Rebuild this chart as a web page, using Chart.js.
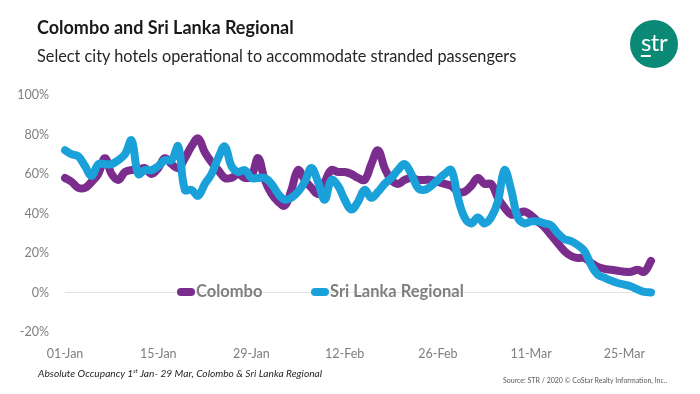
<!DOCTYPE html>
<html>
<head>
<meta charset="utf-8">
<script src="https://cdn.jsdelivr.net/npm/chart.js@4.4.0/dist/chart.umd.min.js"></script>
<style>
  body { margin: 0; background: #fff; font-family: Lato, "Open Sans", sans-serif; }
  #wrap { position: relative; width: 700px; height: 394px; overflow: hidden; }
  #wrap canvas { position: absolute; left: 0; top: 0; }
  .title { position: absolute; left: 37px; top: 16px; font-size: 18px; font-weight: bold; color: #1a1a1a; }
  .sub { position: absolute; left: 37px; top: 46px; font-size: 16.3px; color: #262626; }
  .logo { position: absolute; left: 630px; top: 20px; width: 48px; height: 48px; border-radius: 50%; background: #0a8a76;
          color: #fff; font-size: 24px; line-height: 44px; text-align: center; letter-spacing: -0.5px; }
  .logo span { text-decoration: underline; text-decoration-thickness: 2px; text-underline-offset: 4px; }
  .leg { position: absolute; top: 281px; font-size: 16.5px; font-weight: bold; color: #7f7f7f; line-height: 20px; }
  .leg i { display: inline-block; width: 18px; height: 8px; border-radius: 4px; vertical-align: middle; margin-right: 1px; position: relative; top: -1px; }
  .foot { position: absolute; left: 38px; top: 367px; font-size: 10.2px; font-style: italic; color: #262626; }
  .src { position: absolute; left: 503px; top: 376px; font-size: 7px; color: #595959; }
</style>
</head>
<body>
<div id="wrap">
  <canvas id="myChart"></canvas>
  <div class="title">Colombo and Sri Lanka Regional</div>
  <div class="sub">Select city hotels operational to accommodate stranded passengers</div>
  <div class="logo"><span>s</span>tr</div>
  <div class="leg" style="left:177px"><i style="background:#7b2d8e"></i>Colombo</div>
  <div class="leg" style="left:311px"><i style="background:#1ba1d9"></i>Sri Lanka Regional</div>
  <div class="foot">Absolute Occupancy 1<sup style="font-size:6px">st</sup> Jan- 29 Mar, Colombo &amp; Sri Lanka Regional</div>
  <div class="src">Source: STR / 2020 © CoStar Realty Information, Inc..</div>
</div>
<script>
// daily occupancy, 01-Jan .. 29-Mar 2020 (89 days)
const startDate = new Date(2020, 0, 1);
const dayCount = 89;
const months = ["Jan", "Feb", "Mar"];
const dateLabels = [];
for (let i = 0; i < dayCount; i++) {
  const d = new Date(startDate.getTime() + i * 86400000);
  dateLabels.push(String(d.getDate()).padStart(2, "0") + "-" + months[d.getMonth()]);
}

const colombo = [
  58, 56, 53, 53, 56, 60, 68, 60, 57, 61,
  62, 62, 63, 60, 63, 68, 65, 63, 68, 74,
  78, 71, 66, 62, 58, 58, 60, 58, 59, 68,
  57, 50, 46, 44, 52, 62, 57, 53, 50, 56,
  62, 61, 61, 60, 58, 57, 65, 72, 63, 57,
  55, 57, 58, 57, 57, 57, 56, 55, 54, 51,
  51, 54, 58, 55, 55, 48, 43, 39.5, 40, 41,
  39, 36, 33, 29, 25, 21, 18.5, 17.5, 17.5, 15,
  13, 12, 11.5, 11, 10.5, 10.5, 11.5, 10.5, 16
];

const sriLanka = [
  72, 70, 69, 64, 59, 65, 65, 65, 67, 70,
  77, 60, 62, 62, 64, 67, 67, 74, 52, 52,
  49, 55, 60, 68, 74, 64, 61, 62, 58, 58,
  58, 55, 50, 47, 48, 51, 56, 63, 56, 47,
  57, 54, 47, 42, 46, 52, 48, 51, 55, 58,
  62, 65, 60, 53, 52, 54, 57, 60, 62, 48,
  38, 35, 38, 35, 38, 46, 62, 52, 38, 35,
  36, 36, 35, 34, 30, 27, 26, 24, 21, 14,
  9, 7.5, 6, 4.8, 4, 3, 1.5, 0.3, 0
];

const yTicks = [-20, 0, 20, 40, 60, 80, 100];
const labelEvery = 14;

new Chart(document.getElementById("myChart").getContext("2d"), {
  type: "line",
  data: {
    labels: dateLabels,
    datasets: [
      {
        label: "Colombo",
        data: colombo,
        borderColor: "#7b2d8e",
        order: 1
      },
      {
        label: "Sri Lanka Regional",
        data: sriLanka,
        borderColor: "#1ba1d9",
        order: 0
      }
    ]
  },
  options: {
    responsive: true,
    maintainAspectRatio: false,
    animation: false,
    layout: { padding: { top: 95, right: 49, bottom: 22, left: 0 } },
    elements: {
      line: { borderWidth: 8, tension: 0.4, fill: false, borderCapStyle: "round", borderJoinStyle: "round" },
      point: { radius: 0, hoverRadius: 0 }
    },
    datasets: { line: { clip: false } },
    plugins: { legend: { display: false }, tooltip: { enabled: false } },
    scales: {
      x: {
        grid: { display: false },
        border: { display: false },
        ticks: {
          autoSkip: false,
          maxRotation: 0,
          padding: 6,
          color: "#7f7f7f",
          font: { family: "Lato", size: 12.5 },
          callback: (v, i) => (i % labelEvery === 0 ? dateLabels[i] : null)
        },
        afterFit: s => { s.height = 40; }
      },
      y: {
        min: yTicks[0],
        max: yTicks[yTicks.length - 1],
        border: { display: false },
        grid: {
          drawTicks: false,
          color: ctx => (ctx.tick && ctx.tick.value === 0 ? "#e3e3e3" : "transparent")
        },
        ticks: {
          stepSize: 20,
          padding: 16,
          color: "#7f7f7f",
          font: { family: "Lato", size: 12.5 },
          callback: v => v + "%"
        },
        afterFit: s => { s.width = 65; }
      }
    }
  }
});
</script>
</body>
</html>
